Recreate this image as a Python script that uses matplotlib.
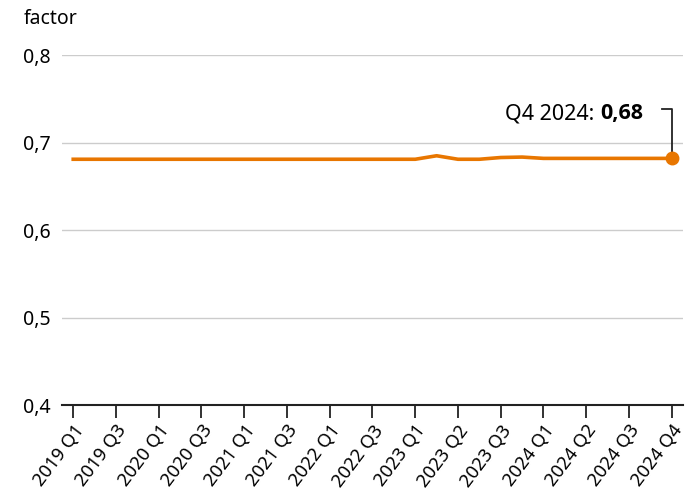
import numpy as np
import matplotlib.pyplot as plt

plt.rcParams['font.family'] = ['Noto Sans', 'DejaVu Sans']

labels = ['2019 Q1', '2019 Q3', '2020 Q1', '2020 Q3', '2021 Q1', '2021 Q3',
          '2022 Q1', '2022 Q3', '2023 Q1', '2023 Q2', '2023 Q3', '2024 Q1',
          '2024 Q2', '2024 Q3', '2024 Q4']
# values on half-steps between the labelled ticks
values = [0.681] * 17 + [0.685, 0.681, 0.681, 0.683, 0.6835, 0.682,
                          0.682, 0.682, 0.682, 0.682, 0.682, 0.682]
yticks = [0.4, 0.5, 0.6, 0.7, 0.8]

orange = '#e87600'
x = np.arange(len(values)) / 2

fig = plt.figure(figsize=(6.93, 4.97), dpi=100)
ax = fig.add_axes([0.089, 0.185, 0.897, 0.704])

ax.plot(x, values, color=orange, lw=2.6, solid_joinstyle='round', zorder=3)
ax.plot(x[-1], values[-1], 'o', color=orange, ms=9, zorder=4)

ax.set_xlim(-0.27, 14.27)
ax.set_ylim(0.4, 0.8)
ax.set_yticks(yticks)
ax.set_yticklabels([f'{v:.1f}'.replace('.', ',') for v in yticks], fontsize=14)
ax.set_xticks(range(len(labels)))
ax.set_xticklabels(labels, rotation=53, ha='right', va='top',
                   rotation_mode='anchor', fontsize=13.3)
ax.tick_params(axis='x', length=9, width=1.3, color='#222222', pad=3)
ax.tick_params(axis='y', length=0, pad=8)
ax.grid(axis='y', color='#cccccc', lw=1)
ax.get_ygridlines()[0].set_visible(False)
for s in ['top', 'right', 'left']:
    ax.spines[s].set_visible(False)
ax.spines['bottom'].set_linewidth(1.5)
ax.spines['bottom'].set_color('#222222')
ax.set_axisbelow(True)

fig.text(0.034, 0.962, 'factor', fontsize=14, va='center')

# callout for the last value
ax.plot([13.77, 14.0, 14.0], [0.738, 0.738, values[-1]], color='#222222',
        lw=1.3, clip_on=False, zorder=2)
lab = ax.text(13.33, 0.733, 'Q4 2024: ', fontsize=15.5, ha='right', va='center')
num = ax.text(13.33, 0.733, '0,68', fontsize=15.5, fontweight='bold',
              family=['Open Sans', 'DejaVu Sans'], ha='right', va='center')
fig.canvas.draw()
bb = num.get_window_extent()
lab.set_x(ax.transData.inverted().transform((bb.x0, bb.y0))[0])

fig.savefig('out.png', dpi=100)
